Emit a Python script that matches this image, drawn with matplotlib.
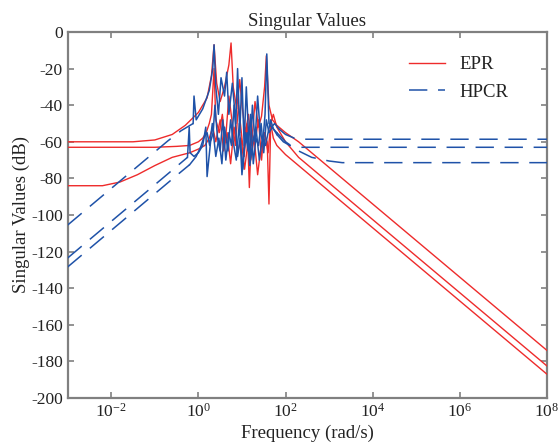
import numpy as np
import matplotlib
matplotlib.use("Agg")
import matplotlib.pyplot as plt
from matplotlib.ticker import FixedLocator, FuncFormatter, NullLocator

plt.rcParams['font.family'] = ['Liberation Serif', 'DejaVu Serif']
plt.rcParams['mathtext.fontset'] = 'custom'
plt.rcParams['mathtext.rm'] = 'Liberation Serif'
plt.rcParams['mathtext.it'] = 'Liberation Serif:italic'
plt.rcParams['axes.unicode_minus'] = False

# values: log10(frequency) and singular value in dB
epr1_logw = [-3, -1.5, -1.0, -0.6, -0.3, 0.0, 0.2, 0.3, 0.36, 0.42, 0.5, 0.6, 0.7, 0.75, 0.8,
             0.88, 0.95, 1.0, 1.08, 1.15, 1.22, 1.3, 1.38, 1.45, 1.52, 1.56, 1.62, 1.7, 1.8,
             2.0, 2.3, 3.0, 8.0]
epr1_db = [-60, -60, -59, -56, -51, -44, -36, -24, -7, -28, -38, -30, -18, -6, -30,
           -42, -26, -40, -55, -45, -62, -38, -52, -46, -30, -13, -40, -48, -51,
           -55, -60, -74, -174]

epr2_logw = [-3, -1, -0.5, -0.2, 0.0, 0.1, 0.18, 0.25, 0.3, 0.36, 0.4, 0.48, 0.55, 0.62, 0.7,
             0.78, 0.85, 0.92, 1.0, 1.05, 1.12, 1.17, 1.22, 1.3, 1.38, 1.45, 1.5, 1.58, 1.62,
             1.66, 1.72, 1.8, 2.0, 2.3, 8.0]
epr2_db = [-63, -63, -62.5, -62, -60, -58, -55, -50, -45, -20, -48, -55, -45, -60, -35,
           -50, -62, -40, -58, -68, -50, -85, -55, -60, -48, -70, -55, -60, -94,
           -50, -45, -52, -60, -68.5, -182.5]

epr3_logw = [-3, -2.2, -1.8, -1.4, -1.0, -0.6, -0.2, 0.0, 0.15, 0.25, 0.33, 0.4, 0.5, 0.58,
             0.66, 0.74, 0.82, 0.9, 0.98, 1.06, 1.14, 1.2, 1.28, 1.36, 1.44, 1.52, 1.6, 1.66,
             1.72, 1.8, 2.0, 2.5, 8.0]
epr3_db = [-84, -84, -82, -78, -73, -68.5, -66, -64, -62, -58, -52, -60, -48, -65,
           -55, -72, -52, -66, -58, -75, -60, -70, -58, -78, -62, -55, -66, -50,
           -58, -62, -67, -77, -187]

hpcr1_logw = [-3, -1.5, -0.7, -0.4, -0.12, -0.1, -0.05, 0.1, 0.25, 0.33, 0.36, 0.4, 0.46, 0.52,
              0.6, 0.65, 0.7, 0.78, 0.86, 0.9, 0.95, 1.0, 1.05, 1.1, 1.18, 1.24, 1.3, 1.36,
              1.42, 1.48, 1.53, 1.57, 1.62, 1.68, 1.75, 1.85, 2.0, 2.2, 2.4, 3.0, 8.0]
hpcr1_db = [-105.5, -75.5, -59.5, -54, -50, -35, -48, -42, -32, -20, -7, -30, -45, -25,
            -35, -22, -45, -28, -50, -20, -55, -25, -62, -30, -70, -40, -60, -35,
            -55, -60, -45, -12, -50, -52, -50, -53, -56, -58, -58.6, -58.6, -58.6]

hpcr2_logw = [-3, -1.5, -0.5, -0.25, -0.21, -0.19, -0.1, 0.0, 0.1, 0.17, 0.2, 0.28, 0.34, 0.38,
              0.44, 0.5, 0.56, 0.63, 0.7, 0.76, 0.82, 0.9, 0.96, 1.02, 1.08, 1.14, 1.2, 1.26,
              1.32, 1.38, 1.44, 1.5, 1.56, 1.62, 1.7, 1.8, 1.95, 2.1, 2.3, 2.5, 8.0]
hpcr2_db = [-123.5, -93.5, -73.5, -68.5, -52, -66, -68, -66, -62, -52, -79, -60, -55, -40,
            -58, -65, -48, -70, -55, -62, -40, -68, -58, -75, -55, -65, -45, -72,
            -58, -62, -50, -66, -48, -55, -52, -56, -60, -62, -63, -63, -63]

hpcr3_logw = [-3, -1.5, -0.5, -0.2, -0.05, 0.05, 0.12, 0.2, 0.26, 0.32, 0.4, 0.47, 0.54, 0.6,
              0.68, 0.74, 0.8, 0.87, 0.94, 1.0, 1.06, 1.12, 1.18, 1.25, 1.32, 1.4, 1.47, 1.54,
              1.6, 1.66, 1.72, 1.8, 2.0, 2.3, 2.6, 3.0, 3.3, 8.0]
hpcr3_db = [-128.4, -98.4, -78.4, -72.5, -68, -63, -58, -55, -62, -50, -68, -58, -72, -52,
            -65, -48, -60, -70, -50, -78, -62, -55, -73, -60, -52, -70, -58, -62,
            -55, -48, -53, -55, -60, -65, -68.5, -70.5, -71.4, -71.4]

xtick_exp = [-2, 0, 2, 4, 6, 8]
yticks = list(range(-200, 1, 20))

red = '#ee2b2b'
blue = '#1f52a8'
grey = '#808080'
txt = '#222222'

fig = plt.figure(figsize=(5.59, 4.48), dpi=100)
ax = fig.add_axes([0.121, 0.1116, 0.8575, 0.817])

epr = [(epr1_logw, epr1_db), (epr2_logw, epr2_db), (epr3_logw, epr3_db)]
hpcr = [(hpcr1_logw, hpcr1_db), (hpcr2_logw, hpcr2_db), (hpcr3_logw, hpcr3_db)]

for i, (lw_, db) in enumerate(epr):
    ax.plot(10.0 ** np.array(lw_), db, color=red, lw=1.0,
            label='EPR' if i == 0 else None, zorder=3)

# blue: dashed outside the resonance band, solid inside it (looks like the original)
for i, (lw_, db) in enumerate(hpcr):
    lw_ = np.array(lw_)
    db = np.array(db)
    w = 10.0 ** lw_
    idx = np.where((lw_ >= -0.25) & (lw_ <= 1.9))[0]
    lo, hi = idx[0], idx[-1]
    ax.plot(w[:lo + 1], db[:lo + 1], color=blue, lw=1.1, dashes=(12, 7),
            label='HPCR' if i == 0 else None, zorder=4)
    ax.plot(w[lo:hi + 1], db[lo:hi + 1], color=blue, lw=1.1, zorder=4)
    ax.plot(w[hi:], db[hi:], color=blue, lw=1.1, dashes=(12, 7), zorder=4)

ax.set_xscale('log')
ax.set_xlim(1e-3, 1e8)
ax.set_ylim(-200, 0)
ax.xaxis.set_major_locator(FixedLocator([10.0 ** e for e in xtick_exp]))
ax.xaxis.set_minor_locator(NullLocator())
ax.xaxis.set_major_formatter(FuncFormatter(lambda v, p: r'10$^{\mathregular{%d}}$' % round(np.log10(v))))
ax.set_yticks(yticks)
ax.yaxis.set_major_formatter(FuncFormatter(lambda v, p: '%d' % v))

for s in ax.spines.values():
    s.set_color(grey)
    s.set_linewidth(1.6)
ax.tick_params(direction='in', length=4, width=1.2, color=grey, labelsize=12.5,
               top=True, right=True, labelcolor=txt)

ax.set_title('Singular Values', fontsize=13.5, color=txt, pad=4)
ax.set_xlabel('Frequency (rad/s)', fontsize=13.5, color=txt, labelpad=3)
ax.set_ylabel('Singular Values (dB)', fontsize=13.5, color=txt, labelpad=1)

leg = ax.legend(loc='upper right', frameon=False, fontsize=13.5, handlelength=1.9,
                handletextpad=0.8, bbox_to_anchor=(0.955, 0.98), labelspacing=0.55)
for t in leg.get_texts():
    t.set_color(txt)

fig.savefig('out.png', dpi=100)
